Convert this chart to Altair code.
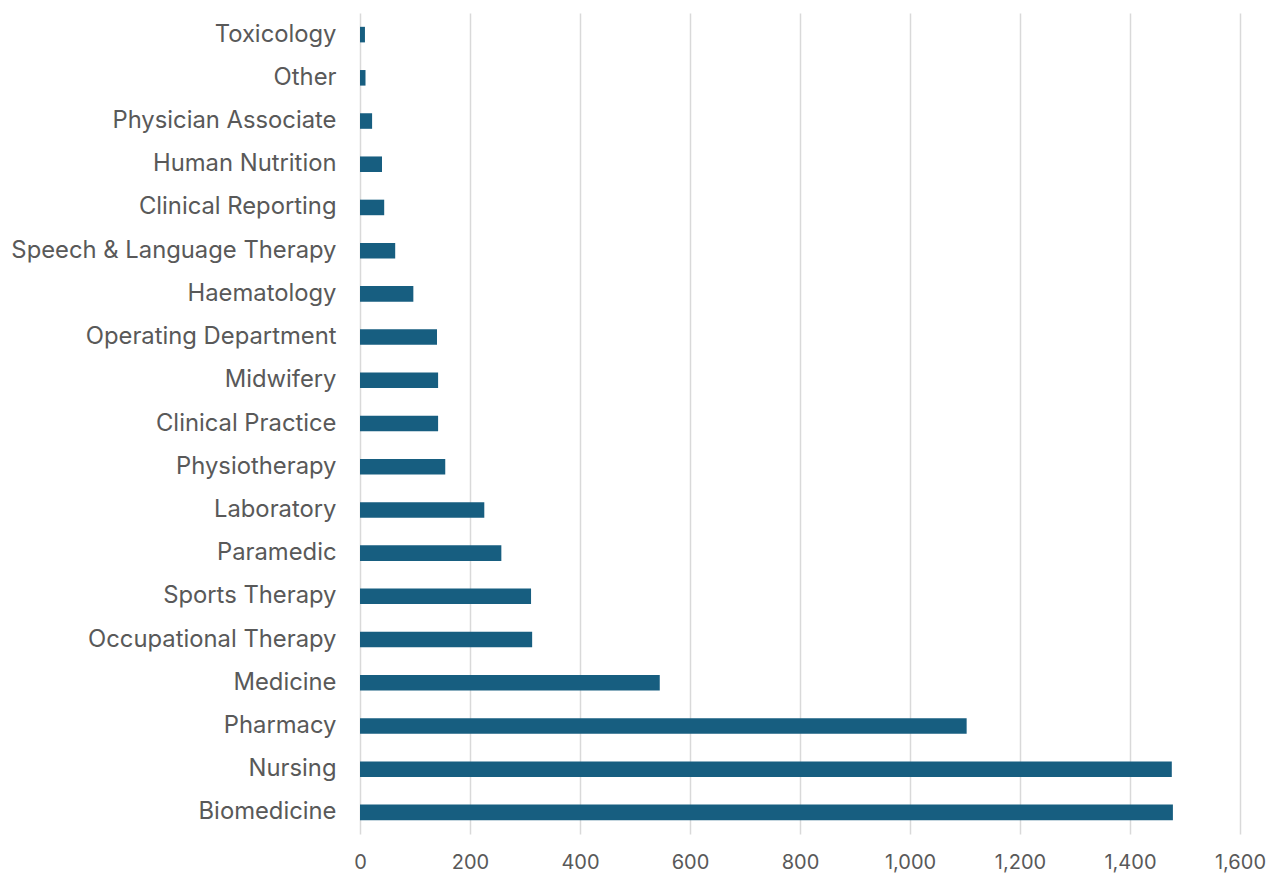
import altair as alt
import pandas as pd

categories = ["Toxicology", "Other", "Physician Associate", "Human Nutrition",
              "Clinical Reporting", "Speech & Language Therapy", "Haematology",
              "Operating Department", "Midwifery", "Clinical Practice",
              "Physiotherapy", "Laboratory", "Paramedic", "Sports Therapy",
              "Occupational Therapy", "Medicine", "Pharmacy", "Nursing", "Biomedicine"]
values = [9, 10, 22, 40, 44, 64, 97, 140, 142, 142, 155, 226, 257, 311, 313,
          545, 1103, 1476, 1478]
tick_values = [0, 200, 400, 600, 800, 1000, 1200, 1400, 1600]

df = pd.DataFrame({"category": categories, "value": values})

FONT = "Inter"
GREY = "#595959"

chart = alt.Chart(df).mark_bar(color="#175e80").encode(
    x=alt.X("value:Q",
            scale=alt.Scale(domain=[0, 1600], nice=False),
            axis=alt.Axis(values=tick_values, format=",d", title=None,
                          grid=True, gridColor="#d9d9d9", gridWidth=1.5,
                          domain=False, ticks=False, labelFontSize=20,
                          labelFlush=False,
                          labelColor=GREY, labelFont=FONT, labelPadding=18)),
    y=alt.Y("category:N", sort=categories,
            scale=alt.Scale(paddingInner=0.64, paddingOuter=0.32),
            axis=alt.Axis(title=None, domain=False, ticks=False, labelFontSize=23.8,
                          labelColor=GREY, labelFont=FONT, labelPadding=24,
                          labelLimit=400)),
).properties(
    width=880, height=821,
    autosize=alt.AutoSizeParams(type="none"),
    padding={"left": 352, "top": 5, "right": 26, "bottom": 40},
).configure_view(stroke=None)

chart.save("out.html", embed_options={"renderer": "svg", "actions": False})
